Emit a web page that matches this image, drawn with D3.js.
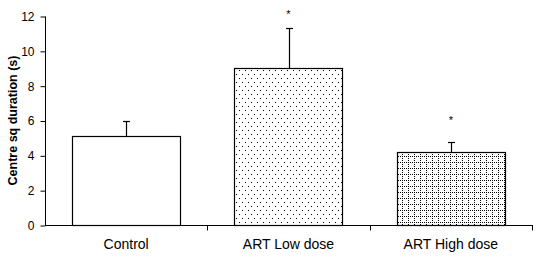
<!DOCTYPE html>
<html>
<head>
<meta charset="utf-8">
<script src="https://cdn.jsdelivr.net/npm/d3@7"></script>
<style>
  body { margin: 0; background: #fff; }
  text { font-family: Arial, "Liberation Sans", sans-serif; fill: #000; }
</style>
</head>
<body>
<div id="chart"></div>
<script>
// data
const categories = ["Control", "ART Low dose", "ART High dose"];
const means = [5.1, 9.0, 4.2];
const errors = [0.9, 2.3, 0.55];
const fills = ["white", "url(#dots)", "url(#grid)"];
const sigMarks = ["", "*", "*"];
const sigY = [null, 11.9, 5.8];
const yTicks = [0, 2, 4, 6, 8, 10, 12];

const W = 543, H = 257;
const mLeft = 45, mRight = 532, mTop = 16, mBottom = 225;

const svg = d3.select("#chart").append("svg")
    .attr("width", W)
    .attr("height", H);

// fill patterns
const defs = svg.append("defs");
const dots = defs.append("pattern")
    .attr("id", "dots")
    .attr("patternUnits", "userSpaceOnUse")
    .attr("width", 6).attr("height", 8);
dots.append("rect").attr("width", 6).attr("height", 8).attr("fill", "#fff");
dots.append("rect").attr("x", 2).attr("y", 2).attr("width", 1).attr("height", 1).attr("fill", "#000");
dots.append("rect").attr("x", 5).attr("y", 6).attr("width", 1).attr("height", 1).attr("fill", "#000");

const grid = defs.append("pattern")
    .attr("id", "grid")
    .attr("patternUnits", "userSpaceOnUse")
    .attr("width", 6).attr("height", 6);
grid.append("rect").attr("width", 6).attr("height", 6).attr("fill", "#fff");
[0, 2, 4].forEach(function (i) {
  grid.append("rect").attr("x", i).attr("y", 0).attr("width", 1).attr("height", 1).attr("fill", "#000");
  grid.append("rect").attr("x", 0).attr("y", i).attr("width", 1).attr("height", 1).attr("fill", "#000");
});

// scales
const x = d3.scaleBand().domain(categories).range([mLeft, mRight]).padding(0);
const y = d3.scaleLinear().domain([0, 12]).range([mBottom, mTop]);
const barW = x.bandwidth() * 0.667;

// y axis
const yAxis = svg.append("g")
    .attr("transform", "translate(" + (mLeft + 0.5) + ",0.5)")
    .call(d3.axisLeft(y).tickValues(yTicks).tickSize(5).tickPadding(6));
yAxis.select(".domain").attr("stroke", "#000").attr("d", "M0," + mTop + "V" + mBottom);
yAxis.selectAll("line").attr("stroke", "#000");
yAxis.selectAll("text").style("font-size", "12px");

// x axis with ticks at category boundaries
const xg = svg.append("g").attr("transform", "translate(0," + (mBottom + 0.5) + ")");
xg.append("line")
    .attr("x1", mLeft).attr("x2", mRight + 1)
    .attr("stroke", "#000");
const bounds = categories.map(function (c) { return x(c) + x.bandwidth(); });
xg.selectAll(".btick").data(bounds).enter().append("line")
    .attr("x1", function (d) { return Math.round(d) + 0.5; })
    .attr("x2", function (d) { return Math.round(d) + 0.5; })
    .attr("y1", 0).attr("y2", 5)
    .attr("stroke", "#000");
xg.selectAll(".clabel").data(categories).enter().append("text")
    .attr("x", function (d) { return x(d) + x.bandwidth() / 2; })
    .attr("y", 23)
    .attr("text-anchor", "middle")
    .style("font-size", "14px")
    .text(function (d) { return d; });

// bars
svg.append("g").selectAll("rect").data(means).enter().append("rect")
    .attr("x", function (d, i) { return Math.round(x(categories[i]) + (x.bandwidth() - barW) / 2) + 0.5; })
    .attr("y", function (d) { return Math.round(y(d)) + 0.5; })
    .attr("width", Math.round(barW))
    .attr("height", function (d) { return Math.round(y(0)) - Math.round(y(d)); })
    .attr("fill", function (d, i) { return fills[i]; })
    .attr("stroke", "#000")
    .attr("stroke-width", 1.2);

// error bars
const eb = svg.append("g").attr("stroke", "#000").attr("stroke-width", 1.2);
means.forEach(function (m, i) {
  const cx = Math.round(x(categories[i]) + x.bandwidth() / 2) + 0.5;
  const yTop = Math.round(y(m + errors[i])) + 0.5;
  eb.append("line").attr("x1", cx).attr("x2", cx)
      .attr("y1", Math.round(y(m)) + 0.5).attr("y2", yTop);
  eb.append("line").attr("x1", cx - 3.5).attr("x2", cx + 3.5)
      .attr("y1", yTop).attr("y2", yTop);
});

// significance marks
sigMarks.forEach(function (s, i) {
  if (!s) return;
  svg.append("text")
      .attr("x", x(categories[i]) + x.bandwidth() / 2)
      .attr("y", y(sigY[i]))
      .attr("text-anchor", "middle")
      .style("font-size", "11px")
      .text(s);
});

// y axis title
svg.append("text")
    .attr("transform", "translate(17," + ((mTop + mBottom) / 2) + ") rotate(-90)")
    .attr("text-anchor", "middle")
    .style("font-size", "12.5px")
    .style("font-weight", "bold")
    .text("Centre sq duration (s)");
</script>
</body>
</html>
